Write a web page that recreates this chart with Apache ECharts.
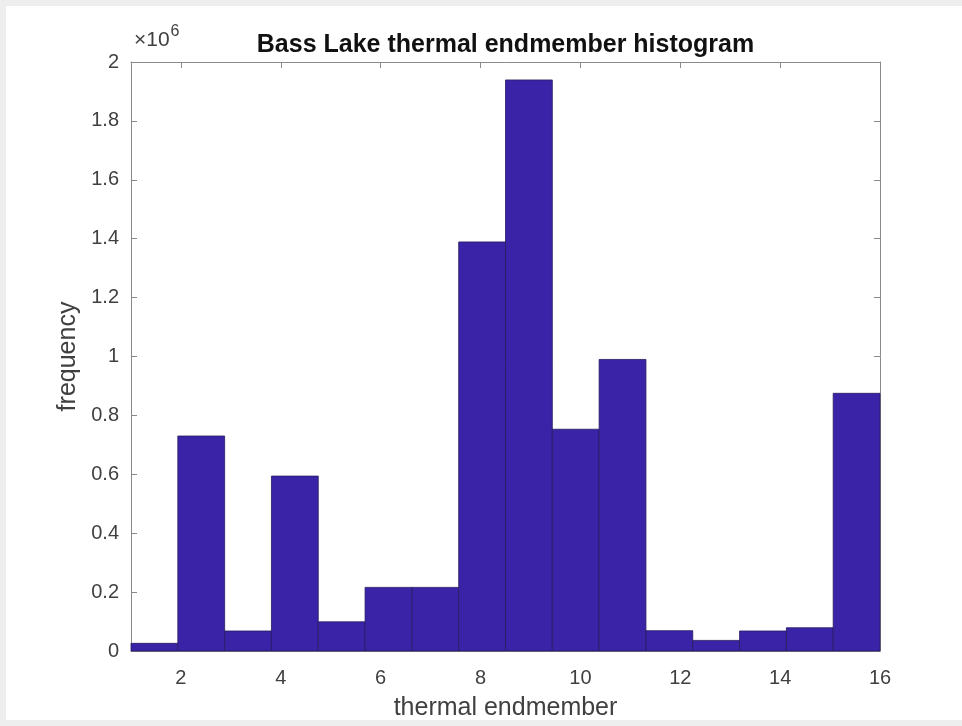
<!DOCTYPE html>
<html>
<head>
<meta charset="utf-8">
<script src="https://cdn.jsdelivr.net/npm/echarts@6/dist/echarts.min.js"></script>
<style>
  html, body { margin: 0; padding: 0; background: #eeeeee; }
  #chart { position: absolute; left: 6px; top: 6px; width: 956px; height: 714px; background: #ffffff; }
</style>
</head>
<body>
<div id="chart"></div>
<script>
// Bin edges of the histogram (16 bins spanning 1..16)
const binEdges = [1, 1.9375, 2.875, 3.8125, 4.75, 5.6875, 6.625, 7.5625, 8.5, 9.4375, 10.375, 11.3125, 12.25, 13.1875, 14.125, 15.0625, 16];
// Frequencies per bin
const counts = [26000, 730000, 68000, 594000, 99000, 216000, 216000, 1389000, 1939000, 753000, 990000, 69000, 36000, 68000, 79000, 875000];
// Tick values
const xTickValues = [2, 4, 6, 8, 10, 12, 14, 16];
const yTickValues = [0, 200000, 400000, 600000, 800000, 1000000, 1200000, 1400000, 1600000, 1800000, 2000000];

const data = counts.map((c, i) => [binEdges[i], binEdges[i + 1], c]);

const chart = echarts.init(document.getElementById('chart'), null, { renderer: 'canvas' });
const axisColor = '#8a8a8a';
const labelColor = '#404040';
const fontFamily = '"Liberation Sans", Arial, Helvetica, sans-serif';

const option = {
  animation: false,
  backgroundColor: '#ffffff',
  title: {
    text: 'Bass Lake thermal endmember histogram',
    left: 499.5, top: 27, textAlign: 'center', padding: 0,
    textStyle: { fontFamily, fontSize: 25, fontWeight: 'bold', color: '#111111' }
  },
  grid: { left: 125, right: 82, top: 56, bottom: 69, containLabel: false, outerBoundsMode: 'none' },
  xAxis: [
    {
      type: 'value', min: 1, max: 16, position: 'bottom',
      name: 'thermal endmember', nameLocation: 'middle', nameGap: 45,
      nameTextStyle: { fontFamily, fontSize: 25, color: labelColor },
      axisLine: { show: true, onZero: false, lineStyle: { color: axisColor, width: 1 } },
      axisTick: { show: true, inside: true, length: 6, customValues: xTickValues, lineStyle: { color: axisColor } },
      axisLabel: { show: true, customValues: xTickValues, margin: 17, fontFamily, fontSize: 20, color: labelColor },
      splitLine: { show: false }
    },
    {
      type: 'value', min: 1, max: 16, position: 'top',
      axisLine: { show: true, onZero: false, lineStyle: { color: axisColor, width: 1 } },
      axisTick: { show: true, inside: true, length: 6, customValues: xTickValues, lineStyle: { color: axisColor } },
      axisLabel: { show: false },
      splitLine: { show: false }
    }
  ],
  yAxis: [
    {
      type: 'value', min: 0, max: 2000000, interval: 200000, position: 'left',
      name: 'frequency', nameLocation: 'middle', nameGap: 50, nameRotate: 90,
      nameTextStyle: { fontFamily, fontSize: 25, color: labelColor },
      axisLine: { show: true, onZero: false, lineStyle: { color: axisColor, width: 1 } },
      axisTick: { show: true, inside: true, length: 6, lineStyle: { color: axisColor } },
      axisLabel: {
        show: true, margin: 12, fontFamily, fontSize: 20, color: labelColor,
        formatter: v => v === 0 ? '0' : String(+(v / 1e6).toFixed(1))
      },
      splitLine: { show: false }
    },
    {
      type: 'value', min: 0, max: 2000000, interval: 200000, position: 'right',
      axisLine: { show: true, onZero: false, lineStyle: { color: axisColor, width: 1 } },
      axisTick: { show: true, inside: true, length: 6, lineStyle: { color: axisColor } },
      axisLabel: { show: false },
      splitLine: { show: false }
    }
  ],
  graphic: [
    {
      type: 'text', left: 128, top: 18,
      style: {
        text: '{a|×10}{b|6}',
        rich: {
          a: { fontFamily, fontSize: 21, fill: labelColor, verticalAlign: 'bottom', lineHeight: 27 },
          b: { fontFamily, fontSize: 16, fill: labelColor, verticalAlign: 'top', lineHeight: 27, padding: [0, 0, 14, 1] }
        }
      }
    }
  ],
  series: [
    {
      type: 'custom',
      xAxisIndex: 0, yAxisIndex: 0,
      data: data,
      encode: { x: [0, 1], y: 2 },
      renderItem: function (params, api) {
        const x0 = api.value(0), x1 = api.value(1), y = api.value(2);
        const p0 = api.coord([x0, y]);
        const p1 = api.coord([x1, 0]);
        return {
          type: 'rect',
          shape: { x: p0[0], y: p0[1], width: p1[0] - p0[0], height: p1[1] - p0[1] },
          style: { fill: '#3b23a8', stroke: '#241c5e', lineWidth: 0.8 }
        };
      },
      z: 1
    }
  ]
};
chart.setOption(option);
</script>
</body>
</html>
